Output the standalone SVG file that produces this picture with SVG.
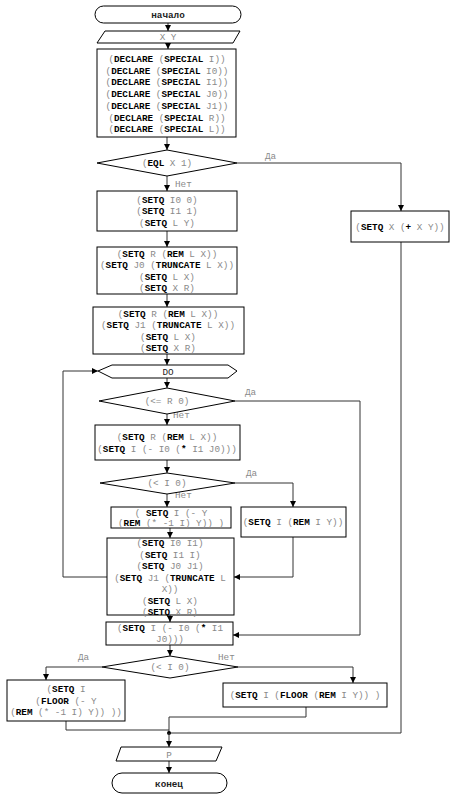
<svg xmlns="http://www.w3.org/2000/svg" width="457" height="801" viewBox="0 0 457 801">
<defs>
<marker id="ah" viewBox="0 0 10 10" refX="10" refY="5" markerWidth="6" markerHeight="6" markerUnits="userSpaceOnUse" orient="auto">
<path d="M0,0 L10,5 L0,10 z" fill="#000"/>
</marker>
<style>
.s{fill:#fff;stroke:#000;stroke-width:1}
.c{fill:none;stroke:#333;stroke-width:1}
.a{marker-end:url(#ah)}
.t{font-family:"Liberation Mono",monospace;font-size:9.3px;fill:#8a8a8a;text-anchor:middle}
.k{font-weight:bold;fill:#000}
.l{font-family:"Liberation Mono",monospace;font-size:9.3px;fill:#8a8a8a}
.h{font-family:"Liberation Mono",monospace;font-size:9.3px;font-weight:bold;fill:#222;text-anchor:middle}
</style>
</defs>
<rect width="457" height="801" fill="#fff"/>
<g id="connectors">
<line class="c a" x1="168" y1="23" x2="168" y2="31"/>
<line class="c a" x1="168" y1="43" x2="168" y2="49"/>
<line class="c a" x1="167" y1="137" x2="167" y2="150"/>
<line class="c a" x1="167" y1="176" x2="167" y2="191"/>
<polyline class="c a" points="237,163 401,163 401,211"/>
<line class="c a" x1="167" y1="231" x2="167" y2="247"/>
<line class="c a" x1="167" y1="294" x2="167" y2="307"/>
<line class="c a" x1="167" y1="354" x2="167" y2="365"/>
<line class="c a" x1="167" y1="378" x2="167" y2="388"/>
<line class="c a" x1="167" y1="414" x2="167" y2="425"/>
<polyline class="c a" points="235,401 360,401 360,635 233,635"/>
<line class="c a" x1="167" y1="460" x2="167" y2="473"/>
<line class="c a" x1="167" y1="494" x2="167" y2="507"/>
<polyline class="c a" points="235,483 293,483 293,507"/>
<polyline class="c a" points="293,537 293,577 234,577"/>
<line class="c a" x1="170" y1="528" x2="170" y2="538"/>
<polyline class="c a" points="107,577 63,577 63,371 98,371"/>
<line class="c a" x1="170" y1="615" x2="170" y2="622"/>
<line class="c a" x1="170" y1="645" x2="170" y2="656"/>
<polyline class="c a" points="102,667 46,667 46,680"/>
<polyline class="c a" points="238,667 353,667 353,683"/>
<polyline class="c" points="306,707 306,717 169,717 169,733"/>
<polyline class="c" points="66,721 66,730 169,730"/>
<polyline class="c" points="401,242 401,733 169,733"/>
<circle cx="169" cy="733" r="2" fill="#000"/>
<line class="c a" x1="169" y1="733" x2="169" y2="747"/>
<line class="c a" x1="169" y1="761" x2="169" y2="773"/>
<text class="l" x="265" y="159">Да</text>
<text class="l" x="175" y="187">Нет</text>
<text class="l" x="245" y="395">Да</text>
<text class="l" x="173" y="418">Нет</text>
<text class="l" x="246" y="476">Да</text>
<text class="l" x="175" y="498">Нет</text>
<text class="l" x="78" y="660">Да</text>
<text class="l" x="218" y="660">Нет</text>
</g>
<g id="start">
<rect class="s" x="95" y="6" width="146" height="17" rx="8.5"/>
<text class="h" x="168" y="18">начало</text>
</g>
<g id="input">
<polygon class="s" points="105,31 240,31 233,43 97,43"/>
<text class="t" x="168" y="40">X Y</text>
</g>
<g id="declare">
<rect class="s" x="97" y="49" width="139" height="88"/>
<text class="t" x="167" y="62">(<tspan class="k">DECLARE</tspan> (<tspan class="k">SPECIAL</tspan> I))</text>
<text class="t" x="167" y="73.7">(<tspan class="k">DECLARE</tspan> (<tspan class="k">SPECIAL</tspan> I0))</text>
<text class="t" x="167" y="85.4">(<tspan class="k">DECLARE</tspan> (<tspan class="k">SPECIAL</tspan> I1))</text>
<text class="t" x="167" y="97.1">(<tspan class="k">DECLARE</tspan> (<tspan class="k">SPECIAL</tspan> J0))</text>
<text class="t" x="167" y="108.8">(<tspan class="k">DECLARE</tspan> (<tspan class="k">SPECIAL</tspan> J1))</text>
<text class="t" x="167" y="120.5">(<tspan class="k">DECLARE</tspan> (<tspan class="k">SPECIAL</tspan> R))</text>
<text class="t" x="167" y="132.2">(<tspan class="k">DECLARE</tspan> (<tspan class="k">SPECIAL</tspan> L))</text>
</g>
<g id="cond1">
<polygon class="s" points="97,163 167,150 237,163 167,176"/>
<text class="t" x="167" y="166">(<tspan class="k">EQL</tspan> X 1)</text>
</g>
<g id="init">
<rect class="s" x="97" y="191" width="140" height="40"/>
<text class="t" x="167" y="202.5">(<tspan class="k">SETQ</tspan> I0 0)</text>
<text class="t" x="167" y="214">(<tspan class="k">SETQ</tspan> I1 1)</text>
<text class="t" x="167" y="225.5">(<tspan class="k">SETQ</tspan> L Y)</text>
</g>
<g id="sum">
<rect class="s" x="351" y="211" width="98" height="31"/>
<text class="t" x="400" y="229.5">(<tspan class="k">SETQ</tspan> X (<tspan class="k">+</tspan> X Y))</text>
</g>
<g id="step1">
<rect class="s" x="97" y="247" width="140" height="47"/>
<text class="t" x="167" y="256.5">(<tspan class="k">SETQ</tspan> R (<tspan class="k">REM</tspan> L X))</text>
<text class="t" x="167" y="268">(<tspan class="k">SETQ</tspan> J0 (<tspan class="k">TRUNCATE</tspan> L X))</text>
<text class="t" x="167" y="279.5">(<tspan class="k">SETQ</tspan> L X)</text>
<text class="t" x="167" y="291">(<tspan class="k">SETQ</tspan> X R)</text>
</g>
<g id="step2">
<rect class="s" x="93" y="307" width="151" height="47"/>
<text class="t" x="168" y="316.5">(<tspan class="k">SETQ</tspan> R (<tspan class="k">REM</tspan> L X))</text>
<text class="t" x="168" y="328">(<tspan class="k">SETQ</tspan> J1 (<tspan class="k">TRUNCATE</tspan> L X))</text>
<text class="t" x="168" y="339.5">(<tspan class="k">SETQ</tspan> L X)</text>
<text class="t" x="168" y="351">(<tspan class="k">SETQ</tspan> X R)</text>
</g>
<g id="loop">
<polygon class="s" points="98,371 112,365 228,365 237,371 228,378 112,378"/>
<text class="t" x="168" y="374.5" style="fill:#222">DO</text>
</g>
<g id="cond2">
<polygon class="s" points="99,401 167,388 235,401 167,414"/>
<text class="t" x="167" y="404">(&lt;= R 0)</text>
</g>
<g id="step3">
<rect class="s" x="95" y="425" width="145" height="35"/>
<text class="t" x="167" y="440">(<tspan class="k">SETQ</tspan> R (<tspan class="k">REM</tspan> L X))</text>
<text class="t" x="167" y="452">(<tspan class="k">SETQ</tspan> I (- I0 (<tspan class="k">*</tspan> I1 J0)))</text>
</g>
<g id="cond3">
<polygon class="s" points="100,483 167,473 235,483 167,494"/>
<text class="t" x="167" y="486">(&lt; I 0)</text>
</g>
<g id="neg1">
<rect class="s" x="111" y="507" width="120" height="21"/>
<text class="t" x="171" y="515.5">( <tspan class="k">SETQ</tspan> I (- Y</text>
<text class="t" x="171" y="525.5">(<tspan class="k">REM</tspan> (* -1 I) Y)) )</text>
</g>
<g id="pos1">
<rect class="s" x="241" y="507" width="105" height="30"/>
<text class="t" x="293" y="525">(<tspan class="k">SETQ</tspan> I (<tspan class="k">REM</tspan> I Y))</text>
</g>
<g id="shift">
<rect class="s" x="107" y="538" width="127" height="77"/>
<text class="t" x="170" y="546">(<tspan class="k">SETQ</tspan> I0 I1)</text>
<text class="t" x="170" y="557.5">(<tspan class="k">SETQ</tspan> I1 I)</text>
<text class="t" x="170" y="569">(<tspan class="k">SETQ</tspan> J0 J1)</text>
<text class="t" x="170" y="580.5">(<tspan class="k">SETQ</tspan> J1 (<tspan class="k">TRUNCATE</tspan> L</text>
<text class="t" x="170" y="592">X))</text>
<text class="t" x="170" y="603.5">(<tspan class="k">SETQ</tspan> L X)</text>
<text class="t" x="170" y="615">(<tspan class="k">SETQ</tspan> X R)</text>
</g>
<g id="calc">
<rect class="s" x="106" y="622" width="127" height="23"/>
<text class="t" x="170" y="631">(<tspan class="k">SETQ</tspan> I (- I0 (<tspan class="k">*</tspan> I1</text>
<text class="t" x="170" y="642">J0)))</text>
</g>
<g id="cond4">
<polygon class="s" points="102,667 170,656 238,667 170,678"/>
<text class="t" x="170" y="670">(&lt; I 0)</text>
</g>
<g id="neg2">
<rect class="s" x="7" y="680" width="118" height="41"/>
<text class="t" x="66" y="692">(<tspan class="k">SETQ</tspan> I</text>
<text class="t" x="66" y="704">(<tspan class="k">FLOOR</tspan> (- Y</text>
<text class="t" x="66" y="715">(<tspan class="k">REM</tspan> (* -1 I) Y)) ))</text>
</g>
<g id="pos2">
<rect class="s" x="223" y="683" width="164" height="24"/>
<text class="t" x="305" y="698">(<tspan class="k">SETQ</tspan> I (<tspan class="k">FLOOR</tspan> (<tspan class="k">REM</tspan> I Y)) )</text>
</g>
<g id="output">
<polygon class="s" points="121,747 222,747 216,761 116,761"/>
<text class="t" x="169" y="757.5">P</text>
</g>
<g id="end">
<rect class="s" x="112" y="773" width="115" height="20" rx="10"/>
<text class="h" x="169" y="786.5">конец</text>
</g>
</svg>
